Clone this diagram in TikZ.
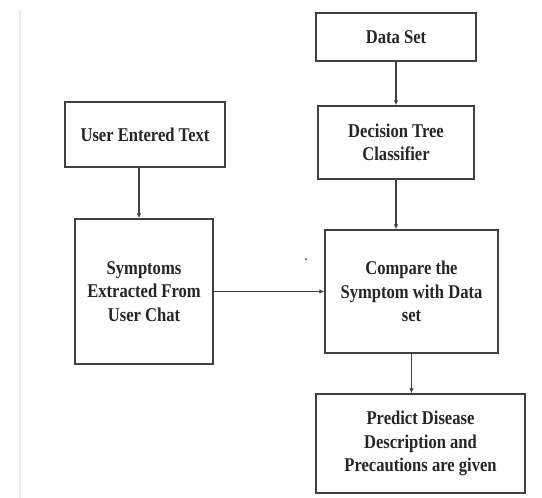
\documentclass[tikz,border=0pt]{standalone}
\usepackage{fontspec}
\setmainfont[FakeStretch=0.85]{Liberation Serif}
\usetikzlibrary{arrows.meta}
\begin{document}
\begin{tikzpicture}[x=1pt,y=-1pt,
  box/.style={draw=black!75, line width=1.3pt, inner sep=0pt, align=center,
    font=\fontsize{19.5}{23.5}\selectfont\bfseries, text=black!85},
  arr/.style={draw=black!75, line width=1.1pt, -{Latex[length=5pt,width=4.5pt]}}]
\useasboundingbox (0,0) rectangle (542,498);
\fill[white] (0,0) rectangle (542,498);
\draw[black!8, line width=2pt] (20,10) -- (20,498);
\node[box, minimum width=160pt, minimum height=48pt] (data) at (396,37) {Data Set};
\node[box, minimum width=156pt, minimum height=73pt] (dec) at (396,142.5) {Decision Tree\\Classifier};
\node[box, minimum width=160pt, minimum height=65pt] (user) at (145,134.5) {User Entered Text};
\node[box, minimum width=138pt, minimum height=145pt] (sym) at (144,291.5) {Symptoms\\Extracted From\\User Chat};
\node[box, minimum width=173pt, minimum height=123pt] (cmp) at (411.5,291.5) {Compare the\\Symptom with Data\\set};
\node[box, minimum width=209pt, minimum height=99pt] (pred) at (420.5,443.5) {Predict Disease\\Description and\\Precautions are given};
\coordinate (u1) at ([xshift=-6pt]user.south);
\draw[arr] (u1) -- (u1 |- sym.north);
\draw[arr] (data.south) -- (dec.north);
\draw[arr] (dec.south) -- (dec.south |- cmp.north);
\draw[arr] (sym.east) -- (sym.east -| cmp.west);
\draw[arr] (cmp.south) -- (cmp.south |- pred.north);
\fill[red!70!black] (306,259) circle (1pt);
\end{tikzpicture}
\end{document}
